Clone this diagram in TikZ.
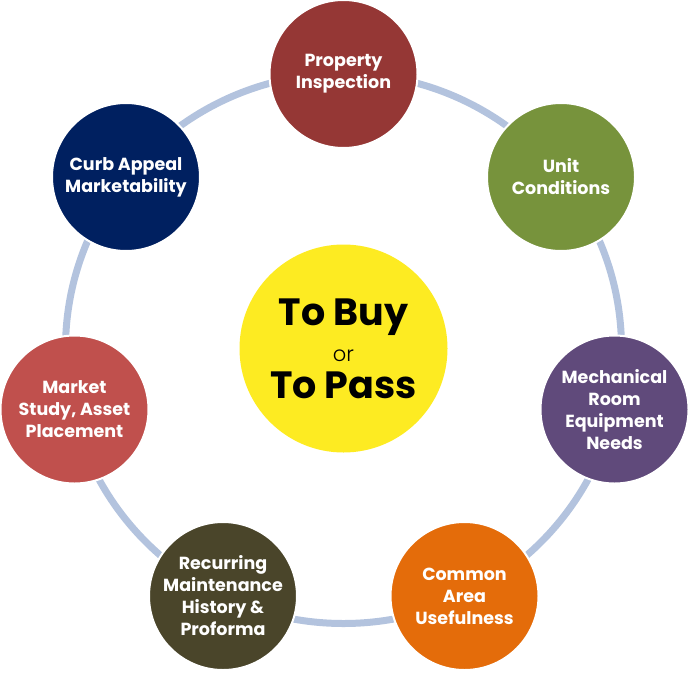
\documentclass[tikz,border=0pt]{standalone}
\usepackage{fontspec}
\setmainfont{Poppins}
\newfontfamily\lightfont{Poppins Light}
\usepackage{xcolor}
\usetikzlibrary{positioning}
\definecolor{inspectred}{HTML}{953735}
\definecolor{unitgreen}{HTML}{77933C}
\definecolor{mechpurple}{HTML}{604A7B}
\definecolor{commonorange}{HTML}{E46C0A}
\definecolor{recurolive}{HTML}{4A452A}
\definecolor{marketred}{HTML}{C0504D}
\definecolor{curbnavy}{HTML}{002060}
\definecolor{hubyellow}{HTML}{FDEB22}
\definecolor{ringblue}{HTML}{B3C3DE}
\tikzset{
    stage/.style={circle, draw=white, line width=2pt, minimum size=148pt, inner sep=0pt,
        align=center, text=white, font=\fontsize{17.5}{22}\selectfont\bfseries},
    hub/.style={circle, fill=hubyellow, minimum size=208pt, inner sep=0pt, align=center,
        font=\fontsize{38}{36.5}\selectfont\bfseries},
    ringline/.style={draw=ringblue, line width=7pt}
}

\begin{document}
\begin{tikzpicture}[x=1pt, y=-1pt]
    \useasboundingbox (0, 0) rectangle (690, 672);

    \node[hub] (hub) at (343.5, 348.5) {To Buy\\{\lightfont\mdseries\fontsize{21}{21}\selectfont or}\\To Pass};

    \draw[ringline] (hub.center) ellipse [x radius=278, y radius=275];

    \node[stage, fill=inspectred] (inspection) at (343.5, 74) {Property\\Inspection};
    \node[stage, fill=unitgreen] (unit) at (561, 177) {Unit\\Conditions};
    \node[stage, fill=mechpurple] (mechanical) at (614.5, 409.5) {Mechanical\\Room\\Equipment\\Needs};
    \node[stage, fill=commonorange] (common) at (464.5, 596) {Common\\Area\\Usefulness};
    \node[stage, fill=recurolive] (recurring) at (223, 596) {Recurring\\Maintenance\\History \&\\Proforma};
    \node[stage, fill=marketred] (market) at (74.5, 409.5) {Market\\Study, Asset\\Placement};
    \node[stage, fill=curbnavy] (curb) at (126, 177) {Curb Appeal\\Marketability};
\end{tikzpicture}
\end{document}
